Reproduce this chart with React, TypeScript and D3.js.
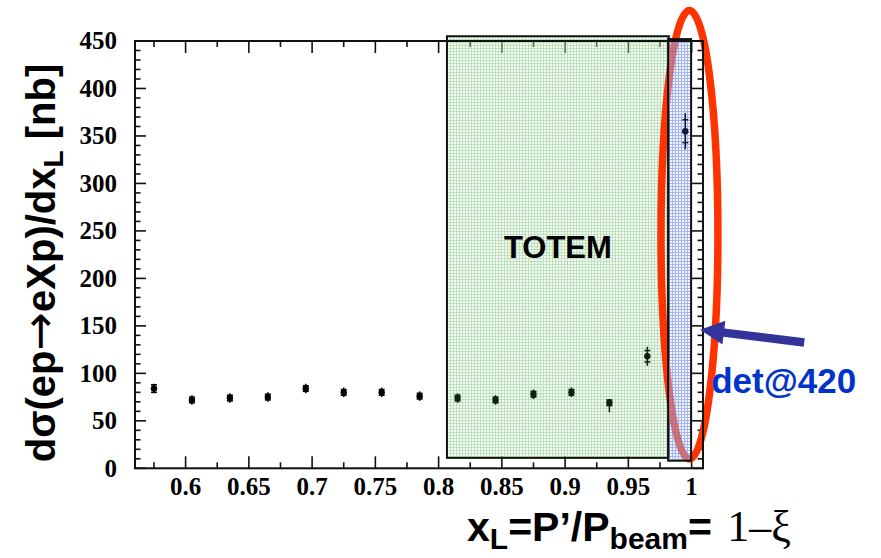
import React from "react";
import * as d3 from "d3";

// ---- data ----
const xL = [0.575, 0.605, 0.635, 0.665, 0.695, 0.725, 0.755, 0.785, 0.815, 0.845, 0.875, 0.905, 0.935, 0.965, 0.995];
const sigma = [84, 72, 74, 75, 84, 80, 80, 76, 74, 72, 78, 80, 69, 118, 355];
const statErr = [4, 3, 3, 3, 3, 3, 3, 3, 3, 3, 3, 3, 3, 6, 12];
const errLow = [5, 5, 5, 5, 5, 5, 5, 5, 5, 5, 5, 5, 10, 10, 19];
const errHigh = [5, 5, 5, 5, 5, 5, 5, 5, 5, 5, 5, 5, 4, 10, 19];
const yTickLabels = [0, 50, 100, 150, 200, 250, 300, 350, 400, 450];
const xTickLabels = ["0.6", "0.65", "0.7", "0.75", "0.8", "0.85", "0.9", "0.95", "1"];
// annotation regions (data units)
const totemX = [0.8066, 0.982];
const totemY = [11, 455];
const detX = [0.9814, 0.9996];
const detY = [8, 452];

const W = 881, H = 558;
const M = { left: 135, top: 41, right: 703, bottom: 468.3 };

export default function App() {
  const x = d3.scaleLinear().domain([0.56, 1.009]).range([M.left, M.right]);
  const y = d3.scaleLinear().domain([0, 450]).range([M.bottom, M.top]);

  const yMajor = d3.range(0, 451, 50);
  const yMinor = d3.range(0, 451, 10).filter((v) => v % 50 !== 0);
  const xMajor = xTickLabels.map(Number);
  const xMinor = d3.range(0, 9).map((k) => 0.575 + k * 0.05).filter((v) => v < 1.009);

  const sans = "'Liberation Sans', Arial, sans-serif";
  const serif = "'Liberation Serif', 'Times New Roman', serif";

  // ellipse (data units)
  const ell = { cx: 0.9983, cy: 246, rx: 0.0225, ry: 236 };
  const ecx = x(ell.cx), ecy = y(ell.cy);
  const erx = x(ell.cx + ell.rx) - ecx, ery = ecy - y(ell.cy + ell.ry);

  // arrow (data units)
  const tip = [x(1.0067), y(146)];
  const tail = [x(1.089), y(132.5)];
  const ang = Math.atan2(tail[1] - tip[1], tail[0] - tip[0]);
  const ux = Math.cos(ang), uy = Math.sin(ang);
  const px = -uy, py = ux;
  const headL = 24, headW = 12, shaftW = 4.2;
  const hb = [tip[0] + ux * headL, tip[1] + uy * headL];
  const arrowPts = [
    tip,
    [hb[0] + px * headW, hb[1] + py * headW],
    [hb[0] + px * shaftW, hb[1] + py * shaftW],
    [tail[0] + px * shaftW, tail[1] + py * shaftW],
    [tail[0] - px * shaftW, tail[1] - py * shaftW],
    [hb[0] - px * shaftW, hb[1] - py * shaftW],
    [hb[0] - px * headW, hb[1] - py * headW],
  ];

  return (
    <svg width={W} height={H} style={{ position: "absolute", left: 0, top: 0, background: "#fff" }}>
      <defs>
        <pattern id="gp" width="3" height="3" patternUnits="userSpaceOnUse">
          <rect width="3" height="3" fill="rgba(225,242,225,0.3)" />
          <rect x="0" y="0" width="3" height="1" fill="rgba(120,190,120,0.45)" />
          <rect x="0" y="1" width="1" height="2" fill="rgba(120,190,120,0.45)" />
        </pattern>
        <pattern id="bp" width="3" height="3" patternUnits="userSpaceOnUse">
          <rect width="3" height="3" fill="rgba(215,222,250,0.35)" />
          <rect x="0" y="0" width="3" height="1" fill="rgba(90,120,225,0.5)" />
          <rect x="0" y="1" width="1" height="2" fill="rgba(90,120,225,0.5)" />
        </pattern>
      </defs>

      {/* ticks */}
      <g stroke="#111" strokeWidth={1.6}>
        {yMajor.map((v) => (
          <g key={"ym" + v}>
            <line x1={M.left} x2={M.left + 11} y1={y(v)} y2={y(v)} />
            <line x1={M.right} x2={M.right - 11} y1={y(v)} y2={y(v)} />
          </g>
        ))}
        {yMinor.map((v) => (
          <g key={"yn" + v}>
            <line x1={M.left} x2={M.left + 5.5} y1={y(v)} y2={y(v)} />
            <line x1={M.right} x2={M.right - 5.5} y1={y(v)} y2={y(v)} />
          </g>
        ))}
        {xMajor.map((v) => (
          <g key={"xm" + v}>
            <line x1={x(v)} x2={x(v)} y1={M.bottom} y2={M.bottom - 12} />
            <line x1={x(v)} x2={x(v)} y1={M.top} y2={M.top + 12} />
          </g>
        ))}
        {xMinor.map((v) => (
          <g key={"xn" + v}>
            <line x1={x(v)} x2={x(v)} y1={M.bottom} y2={M.bottom - 6} />
            <line x1={x(v)} x2={x(v)} y1={M.top} y2={M.top + 6} />
          </g>
        ))}
      </g>

      {/* TOTEM region */}
      <rect
        x={x(totemX[0])}
        y={y(totemY[1])}
        width={x(totemX[1]) - x(totemX[0])}
        height={y(totemY[0]) - y(totemY[1])}
        fill="url(#gp)"
        stroke="#111"
        strokeWidth={2}
      />
      <text
        x={(x(totemX[0]) + x(totemX[1])) / 2}
        y={258}
        textAnchor="middle"
        fontFamily={sans}
        fontWeight="bold"
        fontSize={31}
        fill="#000"
      >
        TOTEM
      </text>

      {/* red ellipse */}
      <ellipse cx={ecx} cy={ecy} rx={erx} ry={ery} fill="none" stroke="#ff3300" strokeWidth={7.5} />

      {/* det@420 region */}
      <rect
        x={x(detX[0])}
        y={y(detY[1])}
        width={x(detX[1]) - x(detX[0])}
        height={y(detY[0]) - y(detY[1])}
        fill="url(#bp)"
        stroke="#111"
        strokeWidth={2}
      />

      {/* data points */}
      <g>
        {xL.map((xv, i) => {
          const cx = x(xv), cy = y(sigma[i]);
          const sLo = y(sigma[i] - statErr[i]), sHi = y(sigma[i] + statErr[i]);
          const col = xv > detX[0] ? "#101838" : xv > totemX[0] ? "#0c200c" : "#000";
          return (
            <g key={"p" + i} stroke={col} strokeWidth={1.5}>
              <line x1={cx} x2={cx} y1={y(sigma[i] - errLow[i])} y2={y(sigma[i] + errHigh[i])} />
              <line x1={cx - 3} x2={cx + 3} y1={sLo} y2={sLo} />
              <line x1={cx - 3} x2={cx + 3} y1={sHi} y2={sHi} />
              <circle cx={cx} cy={cy} r={3.2} fill={col} stroke="none" />
            </g>
          );
        })}
      </g>

      {/* frame */}
      <rect x={M.left} y={M.top} width={M.right - M.left} height={M.bottom - M.top} fill="none" stroke="#111" strokeWidth={2} />

      {/* tick labels */}
      <g fontFamily={serif} fontWeight="bold" fontSize={25} fill="#000">
        {yTickLabels.map((v) => (
          <text key={"yl" + v} x={117} y={y(v)} dy="0.33em" textAnchor="end">
            {v}
          </text>
        ))}
        {xTickLabels.map((t) => (
          <text key={"xl" + t} x={x(Number(t))} y={495} textAnchor="middle">
            {t}
          </text>
        ))}
      </g>

      {/* y-axis title */}
      <text
        transform={`translate(55, 263) rotate(-90)`}
        textAnchor="middle"
        fontFamily={sans}
        fontWeight="bold"
        fontSize={40}
        fill="#000"
      >
        dσ(ep
        <tspan fontFamily="'DejaVu Sans', sans-serif" fontWeight="normal" fontSize={46}>→</tspan>
        eXp)/dx
        <tspan fontSize={28} dy={8}>L</tspan>
        <tspan dy={-8}> [nb]</tspan>
      </text>

      {/* x-axis title */}
      <text x={467} y={541} fontFamily={sans} fontWeight="bold" fontSize={41} fill="#000">
        x<tspan fontSize={30} dy={8}>L</tspan>
        <tspan dy={-8}>=P’/P</tspan>
        <tspan fontSize={30} dy={8}>beam</tspan>
        <tspan dy={-8}>= </tspan>
        <tspan fontFamily={serif} fontWeight="normal" fontSize={44} dx={4}>1–ξ</tspan>
      </text>

      {/* arrow */}
      <polygon points={arrowPts.map((p) => p.join(",")).join(" ")} fill="#333399" />

      {/* det label */}
      <text x={x(1.0155)} y={y(79)} fontFamily={sans} fontWeight="bold" fontSize={35} fill="#0033cc">
        det@420
      </text>
    </svg>
  );
}
